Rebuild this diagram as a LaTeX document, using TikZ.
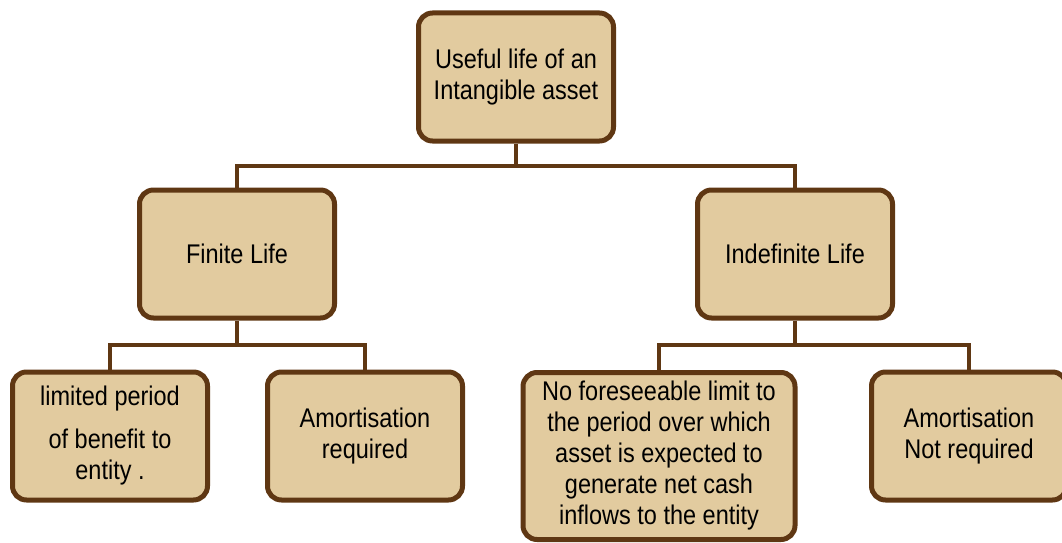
\documentclass[tikz,border=0pt]{standalone}
\usepackage{fontspec}
\setmainfont{Liberation Sans}[FakeStretch=0.87]
\usetikzlibrary{positioning}
\definecolor{boxfill}{HTML}{E2CB9F}
\definecolor{boxline}{HTML}{5F3713}
\tikzset{lifebox/.style={draw=boxline, fill=boxfill, line width=5pt, rounded corners=14pt, align=center, minimum width=195pt, minimum height=128pt, inner sep=2pt, font=\fontsize{27}{31}\selectfont},
         conn/.style={draw=boxline, line width=4pt}}

\begin{document}
\begin{tikzpicture}[x=1pt,y=-1pt] % one unit is one pixel of the picture
\useasboundingbox (0,0) rectangle (1062,543);
% the three levels of boxes
\node[lifebox] (root) at (516,77) {Useful life of an\\Intangible asset};
\node[lifebox] (finite) at (237,254) {Finite Life};
\node[lifebox] (indef) at (795,254) {Indefinite Life};
\node[lifebox] (limited) at (110,436) {limited period\\[12pt]of benefit to\\entity .};
\node[lifebox] (amreq) at (365,436) {Amortisation\\required};
\node[lifebox, minimum width=272pt, minimum height=167pt] (nolimit) at (659,456) {No foreseeable limit to\\the period over which\\asset is expected to\\generate net cash\\inflows to the entity};
\node[lifebox] (amnot) at (969,436) {Amortisation\\Not required};
% the joints where the lines split
\coordinate (top) at (516,166);
\coordinate (left) at (237,345);
\coordinate (right) at (795,345);
% connectors
\draw[conn] (root.south) -- (top);
\draw[conn] (finite.north) -- (finite.north |- top) -- (indef.north |- top) -- (indef.north);
\draw[conn] (finite.south) -- (left);
\draw[conn] (limited.north) -- (limited.north |- left) -- (amreq.north |- left) -- (amreq.north);
\draw[conn] (indef.south) -- (right);
\draw[conn] (nolimit.north) -- (nolimit.north |- right) -- (amnot.north |- right) -- (amnot.north);
\end{tikzpicture}
\end{document}
